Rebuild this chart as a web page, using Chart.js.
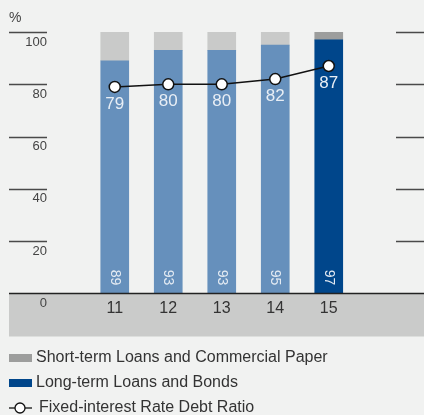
<!DOCTYPE html>
<html>
<head>
<meta charset="utf-8">
<script src="https://cdn.jsdelivr.net/npm/chart.js@4/dist/chart.umd.min.js"></script>
<style>
  html, body { margin: 0; padding: 0; background: #f1f2f1; }
  canvas { display: block; }
</style>
</head>
<body>
<canvas id="chart" width="424" height="415"></canvas>
<script>
// values
const years = ['11', '12', '13', '14', '15']
const longTerm = [89, 93, 93, 95, 97]
const shortTerm = [11, 7, 7, 5, 3]
const fixedRatio = [79, 80, 80, 82, 87]
const yTicks = [0, 20, 40, 60, 80, 100]

const FONT = '"Liberation Sans", Arial, Helvetica, sans-serif'
const lightBlue = '#6690bc'
const darkBlue = '#00468b'
const lightGray = '#c9cac9'
const darkGray = '#9d9e9d'

// last year highlighted in darker colours
const longColors = years.map((y, i) => i === years.length - 1 ? darkBlue : lightBlue)
const shortColors = years.map((y, i) => i === years.length - 1 ? darkGray : lightGray)

const decor = {
  id: 'decor',
  beforeDraw(chart) {
    const { ctx, scales: { y } } = chart
    ctx.save()
    ctx.fillStyle = '#f1f2f1'
    ctx.fillRect(0, 0, chart.width, chart.height)
    // grey band under the axis
    const y0 = y.getPixelForValue(0)
    ctx.fillStyle = '#cacbca'
    ctx.fillRect(9, y0, chart.width - 9, 43)
    // short tick lines left and right
    ctx.strokeStyle = '#4a4a4a'
    ctx.lineWidth = 1.3
    yTicks.filter(v => v > 0).forEach(v => {
      const py = Math.round(y.getPixelForValue(v)) + 0.5
      ctx.beginPath()
      ctx.moveTo(9, py); ctx.lineTo(47, py)
      ctx.moveTo(396, py); ctx.lineTo(chart.width, py)
      ctx.stroke()
    })
    // tick labels under the lines
    ctx.fillStyle = '#444'
    ctx.font = '13px ' + FONT
    ctx.textAlign = 'right'
    ctx.textBaseline = 'middle'
    yTicks.forEach(v => {
      ctx.fillText(String(v), 47, y.getPixelForValue(v) + 10)
    })
    ctx.textAlign = 'left'
    ctx.font = '14px ' + FONT
    ctx.fillText('%', 9, 18)
    ctx.restore()
  },
  afterDatasetsDraw(chart) {
    const { ctx, scales: { x, y } } = chart
    ctx.save()
    // baseline
    const y0 = y.getPixelForValue(0)
    ctx.strokeStyle = '#222'
    ctx.lineWidth = 1.5
    ctx.beginPath()
    ctx.moveTo(9, y0); ctx.lineTo(chart.width, y0)
    ctx.stroke()

    // category labels
    ctx.fillStyle = '#333'
    ctx.font = '16px ' + FONT
    ctx.textAlign = 'center'
    ctx.textBaseline = 'middle'
    years.forEach((yr, i) => ctx.fillText(yr, x.getPixelForValue(i), y0 + 15))

    // rotated long-term values inside bars
    ctx.fillStyle = '#e4ebf3'
    ctx.font = '14px ' + FONT
    longTerm.forEach((v, i) => {
      ctx.save()
      ctx.translate(x.getPixelForValue(i), y0 - 16)
      ctx.rotate(Math.PI / 2)
      ctx.textAlign = 'center'
      ctx.textBaseline = 'middle'
      ctx.fillText(String(v), 0, 0)
      ctx.restore()
    })

    // ratio labels under the points
    ctx.fillStyle = '#e8eef5'
    ctx.font = '17px ' + FONT
    fixedRatio.forEach((v, i) => {
      ctx.fillText(String(v), x.getPixelForValue(i), y.getPixelForValue(v) + 17)
    })
    ctx.restore()
  },
  afterDraw(chart) {
    const { ctx } = chart
    ctx.save()
    ctx.font = '16px ' + FONT
    ctx.textBaseline = 'middle'
    ctx.textAlign = 'left'
    const items = chart.data.datasets.map(ds => ds.label)
    const rows = [358, 383, 408]
    ctx.fillStyle = darkGray
    ctx.fillRect(9, rows[0] - 4, 23, 8)
    ctx.fillStyle = darkBlue
    ctx.fillRect(9, rows[1] - 4, 23, 8)
    ctx.strokeStyle = '#111'
    ctx.lineWidth = 1.3
    ctx.beginPath()
    ctx.moveTo(9, rows[2]); ctx.lineTo(32, rows[2])
    ctx.stroke()
    ctx.beginPath()
    ctx.arc(20, rows[2], 5, 0, Math.PI * 2)
    ctx.fillStyle = '#fff'
    ctx.fill()
    ctx.stroke()
    ctx.fillStyle = '#333'
    ctx.fillText(items[1], 36, rows[0])
    ctx.fillText(items[0], 36, rows[1])
    ctx.fillText(items[2], 39, rows[2])
    ctx.restore()
  }
}

new Chart(document.getElementById('chart'), {
  type: 'bar',
  data: {
    labels: years,
    datasets: [
      {
        label: 'Long-term Loans and Bonds',
        data: longTerm,
        backgroundColor: longColors,
        barThickness: 28,
        stack: 'debt',
        order: 2,
      },
      {
        label: 'Short-term Loans and Commercial Paper',
        data: shortTerm,
        backgroundColor: shortColors,
        barThickness: 28,
        stack: 'debt',
        order: 2,
      },
      {
        type: 'line',
        label: 'Fixed-interest Rate Debt Ratio',
        data: fixedRatio,
        stack: 'ratio',
        borderColor: '#111',
        borderWidth: 1.5,
        pointBackgroundColor: '#fff',
        pointBorderColor: '#111',
        pointBorderWidth: 1.5,
        pointRadius: 5.5,
        tension: 0,
        order: 1,
      },
    ],
  },
  options: {
    responsive: false,
    animation: false,
    layout: { padding: { left: 88, right: 68.5, top: 32, bottom: 121.5 } },
    plugins: { legend: { display: false }, tooltip: { enabled: false } },
    scales: {
      x: { display: false, stacked: true },
      y: { display: false, stacked: true, min: 0, max: 100 },
    },
  },
  plugins: [decor],
})
</script>
</body>
</html>
